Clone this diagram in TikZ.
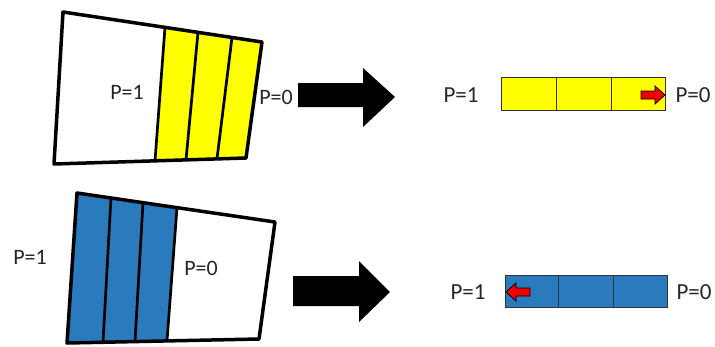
\documentclass[tikz,border=0pt]{standalone}
\usepackage{fontspec}
\setmainfont{Carlito}
\definecolor{yel}{RGB}{255,255,0}
\definecolor{blu}{RGB}{42,122,190}
\definecolor{arrred}{RGB}{240,0,0}
\begin{document}
\begin{tikzpicture}[x=1pt,y=-1pt,
  lbl/.style={font=\fontsize{22}{24}\selectfont, text=black!85, inner sep=0pt},
  outline/.style={draw=black, line width=3.5pt, line join=round},
  divider/.style={draw=black, line width=2.7pt},
  stripcell/.style={draw=black!80, line width=0.8pt},
  bigarrow/.style={fill=black},
  smallarrow/.style={fill=arrred, draw=black, line width=0.8pt, line join=miter}]
\useasboundingbox (0,0) rectangle (715,346);
% ---------- top quadrilateral ----------
\fill[yel] (165,27.4) -- (262,42) -- (246,158) -- (155,160.8) -- cycle;
\draw[divider] (165,27.4) -- (155,160.8);
\draw[divider] (198,32.3) -- (186,159.9);
\draw[divider] (232,37.5) -- (217,158.9);
\draw[outline] (63,12) -- (262,42) -- (246,158) -- (54,164) -- cycle;
\node[lbl] (t1) at (127,92) {P=1};
\node[lbl] (t0) at (276,97) {P=0};
% ---------- bottom quadrilateral ----------
\fill[blu] (77,193) -- (177,207.6) -- (167,340.9) -- (67,343) -- cycle;
\draw[divider] (177,207.6) -- (167,340.9);
\draw[divider] (111,198) -- (103,342.2);
\draw[divider] (143,202.7) -- (135,341.6);
\draw[outline] (77,193) -- (275,222) -- (259,339) -- (67,343) -- cycle;
\node[lbl] (b1) at (30,257) {P=1};
\node[lbl] (b0) at (201,268) {P=0};
% ---------- big black arrows ----------
\fill[bigarrow] (298,83) -- (363,83) -- (363,68) -- (395,97) -- (363,127) -- (363,107) -- (298,107) -- cycle;
\fill[bigarrow] (293,276) -- (359,276) -- (359,261) -- (390,292) -- (359,322) -- (359,306) -- (293,306) -- cycle;
% ---------- top strip ----------
\fill[yel] (501,77) rectangle (665,110);
\draw[stripcell] (501,77) rectangle (556,110);
\draw[stripcell] (556,77) rectangle (611,110);
\draw[stripcell] (611,77) rectangle (665,110);
\filldraw[smallarrow] (641,91) -- (655,91) -- (655,86) -- (665,95) -- (655,104) -- (655,99) -- (641,99) -- cycle;
\node[lbl, font=\fontsize{23}{25}\selectfont] (s1) at (461,95) {P=1};
\node[lbl, font=\fontsize{23}{25}\selectfont] (s0) at (693,95) {P=0};
% ---------- bottom strip ----------
\fill[blu] (505,275) rectangle (667,307);
\draw[stripcell] (505,275) rectangle (558,307);
\draw[stripcell] (558,275) rectangle (613,307);
\draw[stripcell] (613,275) rectangle (667,307);
\filldraw[smallarrow] (530,288) -- (516,288) -- (516,283) -- (506,292) -- (516,301) -- (516,296) -- (530,296) -- cycle;
\node[lbl, font=\fontsize{23}{25}\selectfont] (r1) at (468,292) {P=1};
\node[lbl, font=\fontsize{23}{25}\selectfont] (r0) at (694,292) {P=0};
\end{tikzpicture}
\end{document}
